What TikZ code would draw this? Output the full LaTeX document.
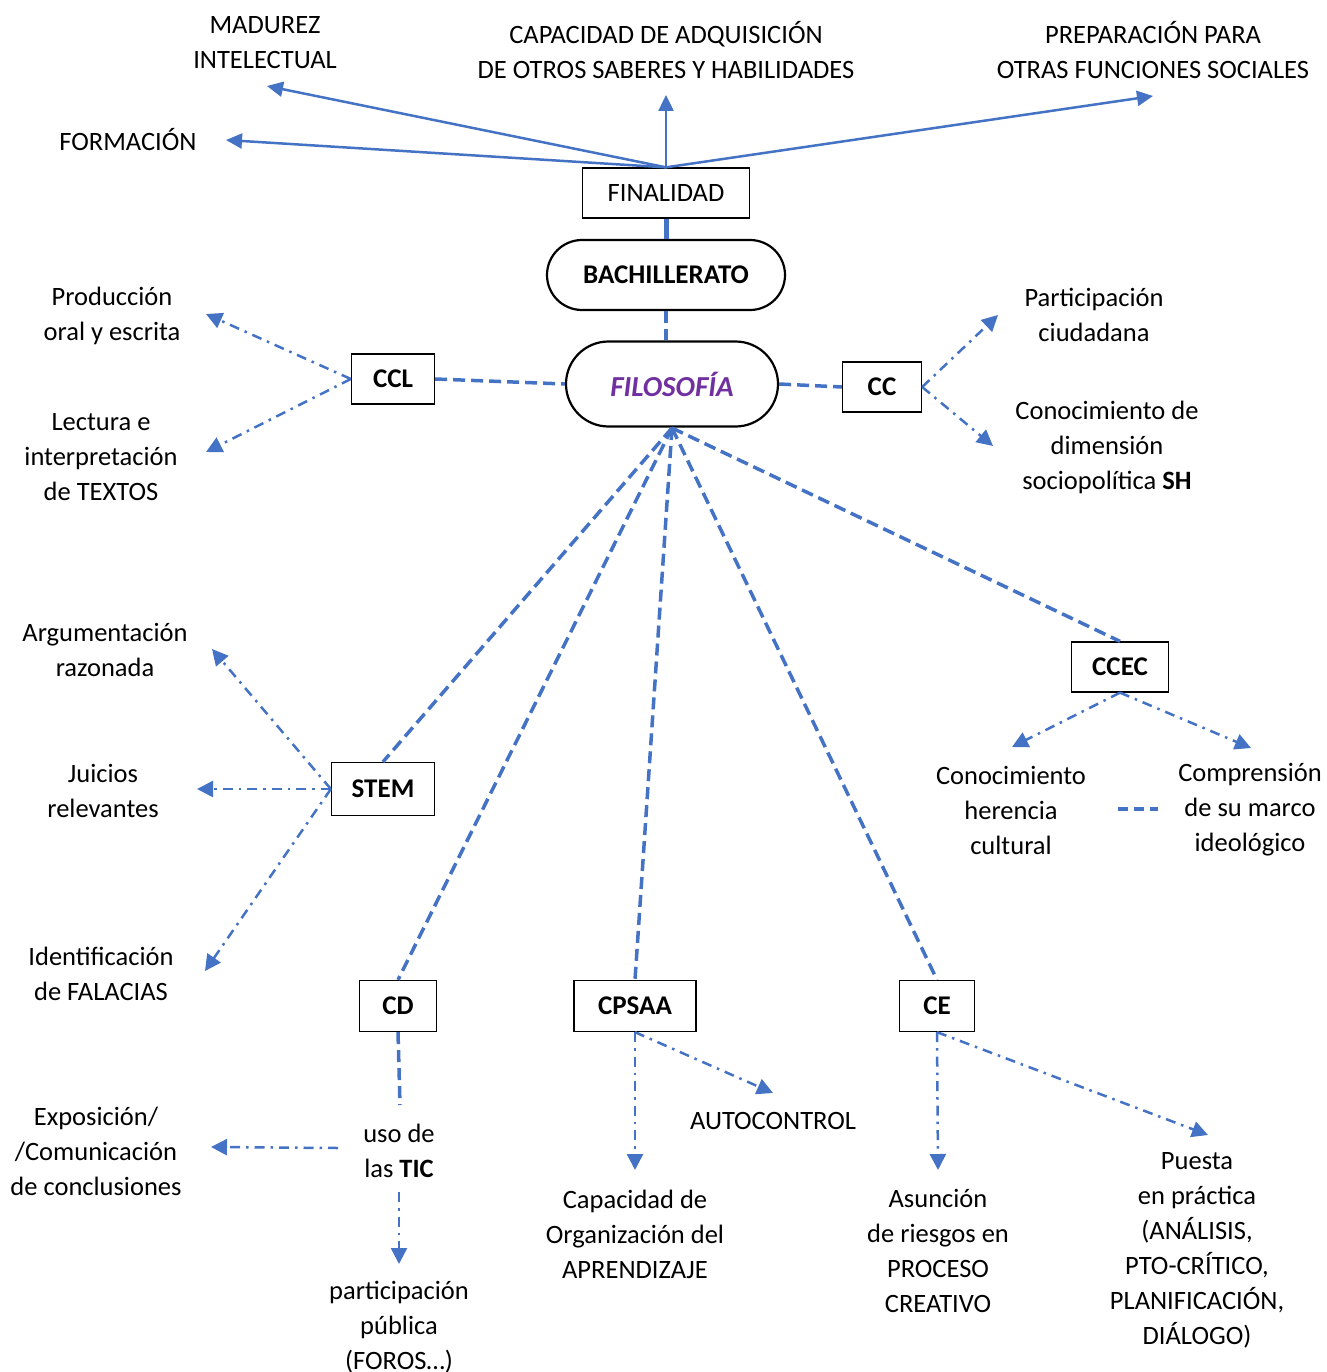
\documentclass[tikz,border=0pt]{standalone}
\usepackage{fontspec}
\setmainfont{Carlito}
\usetikzlibrary{arrows.meta,shapes.misc}
\definecolor{lblue}{RGB}{68,114,196}
\definecolor{purp}{RGB}{112,48,160}
\begin{document}
\begin{tikzpicture}[x=1pt,y=-1pt,
 txt/.style={align=center,font=\fontsize{26.5}{35}\selectfont,inner sep=0pt},
 box/.style={draw,line width=1.3pt,minimum height=50pt,inner sep=0pt,font=\fontsize{27}{35}\selectfont\bfseries},
 pill/.style={draw,line width=2.2pt,rounded rectangle,inner sep=0pt},
 solidarr/.style={lblue,line width=2.5pt,-{Triangle[length=16pt,width=15pt]}},
 dashln/.style={lblue,line width=3.5pt,dash pattern=on 12pt off 6pt},
 dotarr/.style={lblue,line width=2.5pt,dash pattern=on 10pt off 6pt on 2.5pt off 6pt,-{Triangle[length=16pt,width=16pt]}}]
\useasboundingbox (0,0) rectangle (1326,1372);

% boxes
\node[box,font=\fontsize{26.5}{35}\selectfont,minimum width=167pt] (fin) at (666,193) {FINALIDAD};
\node[pill,minimum width=238pt,minimum height=70pt,font=\fontsize{27}{35}\selectfont\bfseries] (bach) at (666,275) {BACHILLERATO};
\node[pill,minimum width=212pt,minimum height=85pt,font=\fontsize{29}{35}\selectfont\bfseries\itshape,text=purp] (filo) at (672,384) {FILOSOFÍA};
\node[box,minimum width=83pt] (ccl) at (393,379) {CCL};
\node[box,minimum width=79pt] (cc) at (882,387) {CC};
\node[box,minimum width=97pt] (ccec) at (1120,667) {CCEC};
\node[box,minimum width=103pt,minimum height=53pt] (stem) at (383,789) {STEM};
\node[box,minimum width=77pt,minimum height=51pt] (cd) at (398,1006) {CD};
\node[box,minimum width=122pt,minimum height=51pt] (cpsaa) at (635,1006) {CPSAA};
\node[box,minimum width=75pt,minimum height=51pt] (ce) at (937,1006) {CE};

% texts
\node[txt] (mad) at (265,43) {MADUREZ\\INTELECTUAL};
\node[txt] (cap) at (666,50) {CAPACIDAD DE ADQUISICIÓN\\DE OTROS SABERES Y HABILIDADES};
\node[txt] (prep) at (1153,50) {PREPARACIÓN PARA\\OTRAS FUNCIONES SOCIALES};
\node[txt] (form) at (128,140) {FORMACIÓN};
\node[txt] (prod) at (112,316) {Producción\\oral y escrita};
\node[txt] (lect) at (101,457) {Lectura e\\interpretación\\de TEXTOS};
\node[txt] (part) at (1094,315) {Participación\\ciudadana};
\node[txt] (conoc) at (1107,447) {Conocimiento de\\dimensión\\sociopolítica \textbf{SH}};
\node[txt] (arg) at (105,650) {Argumentación\\razonada};
\node[txt] (juic) at (103,791) {Juicios\\relevantes};
\node[txt] (ident) at (101,974) {Identificación\\de FALACIAS};
\node[txt] (her) at (1011,810) {Conocimiento\\herencia\\cultural};
\node[txt] (comp) at (1250,810) {Comprensión\\de su marco\\ideológico};
\node[txt] (expo) at (96,1151) {Exposición/\\/Comunicación\\de conclusiones};
\node[txt] (tic) at (399,1151) {uso de\\las \textbf{TIC}};
\node[txt,anchor=north] (pub) at (399,1281) {participación\\pública\\(FOROS…)};
\node[txt] (auto) at (773,1121) {AUTOCONTROL};
\node[txt] (org) at (635,1234) {Capacidad de\\Organización del\\APRENDIZAJE};
\node[txt] (asun) at (938,1251) {Asunción\\de riesgos en\\PROCESO\\CREATIVO};
\node[txt] (pues) at (1197,1250) {Puesta\\en práctica\\(ANÁLISIS,\\PTO-CRÍTICO,\\PLANIFICACIÓN,\\DIÁLOGO)};

% arrow end points
\coordinate (eMad) at (267,86);
\coordinate (eForm) at (226,140);
\coordinate (eCap) at (666,95);
\coordinate (ePrep) at (1153,96);
\coordinate (eProd) at (206,314);
\coordinate (eLect) at (206,452);
\coordinate (ePart) at (998,315);
\coordinate (eConoc) at (993,446);
\coordinate (eArg) at (212,649);
\coordinate (eJuic) at (197,789);
\coordinate (eIdent) at (205,971);
\coordinate (eHer) at (1012,747);
\coordinate (eComp) at (1251,748);
\coordinate (eTicTop) at (400,1105);
\coordinate (sExpo) at (338,1148);
\coordinate (eExpo) at (211,1147);
\coordinate (sPub) at (399,1192);
\coordinate (ePub) at (399,1264);
\coordinate (eOrg) at (635,1170);
\coordinate (eAuto) at (773,1093);
\coordinate (eAsun) at (938,1170);
\coordinate (ePues) at (1208,1135);
\coordinate (fb) at (672,428);

% solid arrows
\draw[solidarr] (fin.north) -- (eMad);
\draw[solidarr] (fin.north) -- (eForm);
\draw[solidarr] (fin.north) -- (eCap);
\draw[solidarr] (fin.north) -- (ePrep);

% dashed links
\draw[lblue,line width=5pt] (fin.south) -- (bach.north);
\draw[dashln,line width=4.5pt] (bach.south) -- (filo.north -| bach.south);
\draw[dashln] (ccl.east) -- (filo.west);
\draw[dashln] (filo.east) -- (cc.west);
\draw[dashln] (fb) -- (stem.north);
\draw[dashln] (fb) -- (cd.north);
\draw[dashln] (fb) -- (cpsaa.north);
\draw[dashln] (fb) -- (ce.north);
\draw[dashln] (fb) -- (ccec.north);
\draw[dashln] (cd.south) -- (eTicTop);
\draw[dashln,dash pattern=on 10pt off 6pt] (1118,809) -- (1158,809);

% dash-dot arrows
\draw[dotarr] (ccl.west) -- (eProd);
\draw[dotarr] (ccl.west) -- (eLect);
\draw[dotarr] (cc.east) -- (ePart);
\draw[dotarr] (cc.east) -- (eConoc);
\draw[dotarr] (stem.west) -- (eArg);
\draw[dotarr] (stem.west) -- (eJuic);
\draw[dotarr] (stem.west) -- (eIdent);
\draw[dotarr] (ccec.south) -- (eHer);
\draw[dotarr] (ccec.south) -- (eComp);
\draw[dotarr] (sExpo) -- (eExpo);
\draw[dotarr] (sPub) -- (ePub);
\draw[dotarr] (cpsaa.south) -- (eOrg);
\draw[dotarr] (cpsaa.south) -- (eAuto);
\draw[dotarr] (ce.south) -- (eAsun);
\draw[dotarr] (ce.south) -- (ePues);
\end{tikzpicture}
\end{document}
